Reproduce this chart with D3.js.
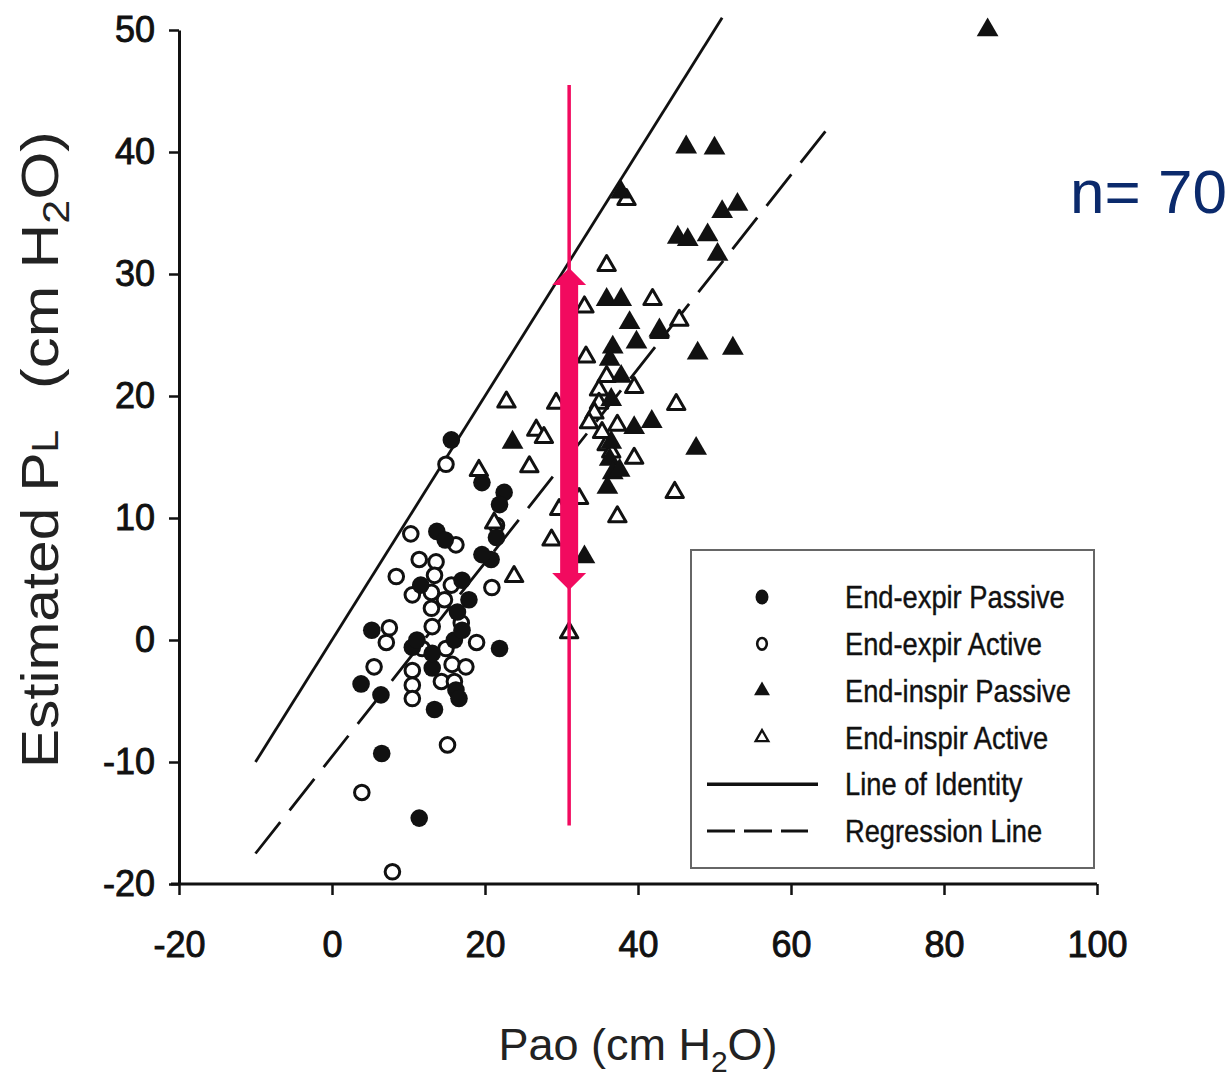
<!DOCTYPE html>
<html>
<head>
<meta charset="utf-8">
<script src="https://cdn.jsdelivr.net/npm/d3@7"></script>
<style>
  body { margin: 0; background: #fff; }
  svg { display: block; font-family: "Liberation Sans", Arial, sans-serif; }
</style>
</head>
<body>
<svg id="chart" width="1231" height="1087"></svg>
<script>
// values, [Pao, estimated PL] in cm H2O
const expirPassive = [
  [15.6,16.4],[19.6,12.9],[22.5,12.1],[21.9,11.1],[21.5,8.4],[20.8,6.6],[13.7,8.9],[14.8,8.2],
  [17.0,4.9],[11.6,4.5],[5.2,0.8],[21.9,-0.7],[3.8,-3.6],[6.4,-4.5],[10.5,-0.6],[13.1,-2.3],
  [16.2,-4.1],[13.4,-5.7],[6.5,-9.3],[11.4,-14.6],[16.4,2.3],[17.9,3.3],[16.0,0.0],[16.6,-4.8],
  [17.0,0.8],[13.1,-1.1],[11.1,0.0],[19.6,7.0]
];
const expirActive = [
  [14.9,14.4],[10.3,8.7],[8.4,5.2],[16.2,7.8],[20.9,4.3],[13.6,6.4],[13.4,5.3],[15.6,4.5],
  [10.5,3.7],[13.0,3.9],[13.0,2.6],[13.1,1.1],[16.9,1.4],[18.9,-0.2],[11.8,-0.7],[14.9,-0.7],
  [7.5,1.0],[7.1,-0.2],[5.5,-2.2],[10.5,-2.5],[15.7,-2.0],[17.5,-2.2],[10.5,-3.7],[10.5,-4.8],
  [14.3,-3.4],[16.0,-3.4],[3.9,-12.5],[7.9,-19.0],[15.1,-8.6],[21.5,9.4],[11.4,6.6],[14.7,3.3]
];
const inspirPassive = [
  [85.7,50.0],[46.3,40.4],[50.0,40.3],[51.0,35.1],[53.0,35.7],[45.2,33.0],[46.5,32.8],[49.1,33.2],
  [50.4,31.6],[35.9,27.9],[37.8,27.9],[38.9,26.0],[39.8,24.4],[42.8,25.4],[36.7,24.0],[36.3,23.0],
  [37.8,21.6],[47.8,23.5],[52.4,23.9],[23.6,16.2],[39.5,17.4],[41.8,17.9],[47.6,15.7],[36.5,16.2],
  [36.3,14.8],[36.7,13.7],[36.0,12.5],[33.0,6.8],[37.6,13.9],[36.5,19.7],[37.8,36.7]
];
const inspirActive = [
  [38.5,36.1],[35.9,30.7],[33.0,27.3],[41.9,27.9],[45.4,26.2],[42.8,25.2],[33.2,23.2],[35.9,21.6],
  [39.5,20.7],[22.8,19.5],[45.0,19.3],[26.7,17.2],[27.7,16.6],[25.8,14.2],[29.3,19.4],[37.3,17.6],
  [39.5,14.9],[35.9,16.0],[44.8,12.1],[37.3,10.1],[32.3,11.6],[29.7,10.7],[28.7,8.2],[23.8,5.2],
  [31.0,0.6],[34.9,20.5],[34.9,19.4],[34.3,18.6],[33.6,17.8],[19.2,13.9],[21.2,9.6],[36.5,15.4],
  [35.3,17.0]
];
const identityLine = [[-10,-10],[51,51]];
const regressionLine = [[-10,-17.5],[65,42.1]];
const pinkX = 31;
const pinkLine = [-15.2,45.5];
const pinkArrow = [4.1,30.5];
const xTicks = [-20,0,20,40,60,80,100];
const yTicks = [-20,-10,0,10,20,30,40,50];
const legendLabels = ["End-expir Passive","End-expir Active","End-inspir Passive","End-inspir Active","Line of Identity","Regression Line"];
const nLabel = "n= 70";

const svg = d3.select("#chart");
const pink = "#f20a5f";

const x = d3.scaleLinear().domain([-20,100]).range([179,1097]);
const y = d3.scaleLinear().domain([-20,50]).range([884,30]);

// axes (plain hyphen for negatives, as in the figure)
const fmt = d => String(d);
const xAxis = svg.append("g")
  .attr("transform", "translate(0,884)")
  .call(d3.axisBottom(x).tickValues(xTicks).tickFormat(fmt).tickSize(11).tickSizeOuter(0).tickPadding(36));
const yAxis = svg.append("g")
  .attr("transform", "translate(179,0)")
  .call(d3.axisLeft(y).tickValues(yTicks).tickFormat(fmt).tickSize(10).tickSizeOuter(0).tickPadding(14));
[xAxis, yAxis].forEach(g => {
  g.select(".domain").attr("stroke", "#111").attr("stroke-width", 3);
  g.selectAll(".tick line").attr("stroke", "#111").attr("stroke-width", 2.5);
  g.selectAll(".tick text")
    .attr("fill", "#111").attr("stroke", "#111").attr("stroke-width", 0.9)
    .style("font-size", "36px").style("font-family", "'Liberation Sans', Arial, sans-serif");
});
xAxis.select(".domain").attr("d", `M${x(-20) - 8},0H${x(100)}`);

// lines
const line = d3.line().x(d => x(d[0])).y(d => y(d[1]));
svg.append("path").attr("d", line(identityLine))
  .attr("stroke", "#111").attr("stroke-width", 2.8).attr("fill", "none");
svg.append("path").attr("d", line(regressionLine))
  .attr("stroke", "#111").attr("stroke-width", 2.8).attr("fill", "none")
  .attr("stroke-dasharray", "40,15");

// points
const tri = d3.symbol(d3.symbolTriangle);
const pts = svg.append("g");
pts.selectAll(".ea").data(expirActive).join("circle")
  .attr("cx", d => x(d[0])).attr("cy", d => y(d[1])).attr("r", 7.3)
  .attr("fill", "#fff").attr("stroke", "#111").attr("stroke-width", 3);
pts.selectAll(".ep").data(expirPassive).join("circle")
  .attr("cx", d => x(d[0])).attr("cy", d => y(d[1])).attr("r", 8.8)
  .attr("fill", "#111");
pts.selectAll(".ia").data(inspirActive).join("path")
  .attr("transform", d => `translate(${x(d[0])},${y(d[1])})`)
  .attr("d", tri.size(130)())
  .attr("fill", "#fff").attr("stroke", "#111").attr("stroke-width", 3).attr("stroke-linejoin", "round");
pts.selectAll(".ip").data(inspirPassive).join("path")
  .attr("transform", d => `translate(${x(d[0])},${y(d[1])})`)
  .attr("d", tri.size(205)())
  .attr("fill", "#111");

// pink annotation
const px = x(pinkX);
const headW = 17, headH = 17, shaftW = 9;
svg.append("line")
  .attr("x1", px).attr("x2", px).attr("y1", y(pinkLine[1])).attr("y2", y(pinkLine[0]))
  .attr("stroke", pink).attr("stroke-width", 3.5);
const yt = y(pinkArrow[1]), yb = y(pinkArrow[0]);
svg.append("path")
  .attr("fill", pink)
  .attr("d", `M${px},${yt} L${px + headW},${yt + headH} L${px + shaftW},${yt + headH}
    L${px + shaftW},${yb - headH} L${px + headW},${yb - headH} L${px},${yb}
    L${px - headW},${yb - headH} L${px - shaftW},${yb - headH} L${px - shaftW},${yt + headH}
    L${px - headW},${yt + headH} Z`);

// legend
const lg = svg.append("g");
lg.append("rect").attr("x", 691).attr("y", 550).attr("width", 403).attr("height", 318)
  .attr("fill", "#fff").attr("stroke", "#666").attr("stroke-width", 2);
const rowY = d3.scalePoint().domain(legendLabels).range([597, 831]);
const mx = 762;
legendLabels.forEach((lab, i) => {
  const cy = rowY(lab);
  if (i === 0) lg.append("ellipse").attr("cx", mx).attr("cy", cy).attr("rx", 6.5).attr("ry", 7.5).attr("fill", "#111");
  if (i === 1) lg.append("ellipse").attr("cx", mx).attr("cy", cy).attr("rx", 4.8).attr("ry", 5.8)
    .attr("fill", "#fff").attr("stroke", "#111").attr("stroke-width", 2.6);
  if (i === 2) lg.append("path").attr("transform", `translate(${mx},${cy})`).attr("d", tri.size(110)()).attr("fill", "#111");
  if (i === 3) lg.append("path").attr("transform", `translate(${mx},${cy})`).attr("d", tri.size(70)())
    .attr("fill", "#fff").attr("stroke", "#111").attr("stroke-width", 2.3);
  if (i === 4) lg.append("line").attr("x1", 707).attr("x2", 818).attr("y1", cy).attr("y2", cy)
    .attr("stroke", "#111").attr("stroke-width", 3.5);
  if (i === 5) lg.append("line").attr("x1", 707).attr("x2", 808).attr("y1", cy).attr("y2", cy)
    .attr("stroke", "#111").attr("stroke-width", 3).attr("stroke-dasharray", "28,9");
  lg.append("text")
    .attr("transform", `translate(845,${cy}) scale(0.88,1)`)
    .attr("dy", "0.36em")
    .attr("fill", "#111")
    .attr("stroke", "#111").attr("stroke-width", 0.4)
    .style("font-size", "31px")
    .text(lab);
});

// axis titles
const ylab1 = svg.append("text")
  .attr("transform", "translate(58,768) rotate(-90)")
  .attr("fill", "#222")
  .attr("textLength", 338).attr("lengthAdjust", "spacingAndGlyphs")
  .style("font-size", "52px");
ylab1.append("tspan").text("Estimated P");
ylab1.append("tspan").style("font-size", "36px").text("L");
const ylab2 = svg.append("text")
  .attr("transform", "translate(58,389) rotate(-90)")
  .attr("fill", "#222")
  .style("font-size", "52px");
ylab2.append("tspan").text("(cm H");
ylab2.append("tspan").style("font-size", "36px").attr("dy", "11").text("2");
ylab2.append("tspan").attr("dy", "-11").text("O)");
ylab2.attr("textLength", 258).attr("lengthAdjust", "spacingAndGlyphs");

const xlab = svg.append("text")
  .attr("x", 638).attr("y", 1060)
  .attr("text-anchor", "middle")
  .attr("fill", "#222")
  .style("font-size", "45px");
xlab.append("tspan").text("Pao (cm H");
xlab.append("tspan").style("font-size", "30px").attr("dy", "12").text("2");
xlab.append("tspan").attr("dy", "-12").text("O)");

svg.append("text")
  .attr("x", 1227).attr("y", 213)
  .attr("text-anchor", "end")
  .attr("fill", "#0b2a6c")
  .style("font-size", "62px")
  .text(nLabel);
</script>
</body>
</html>
